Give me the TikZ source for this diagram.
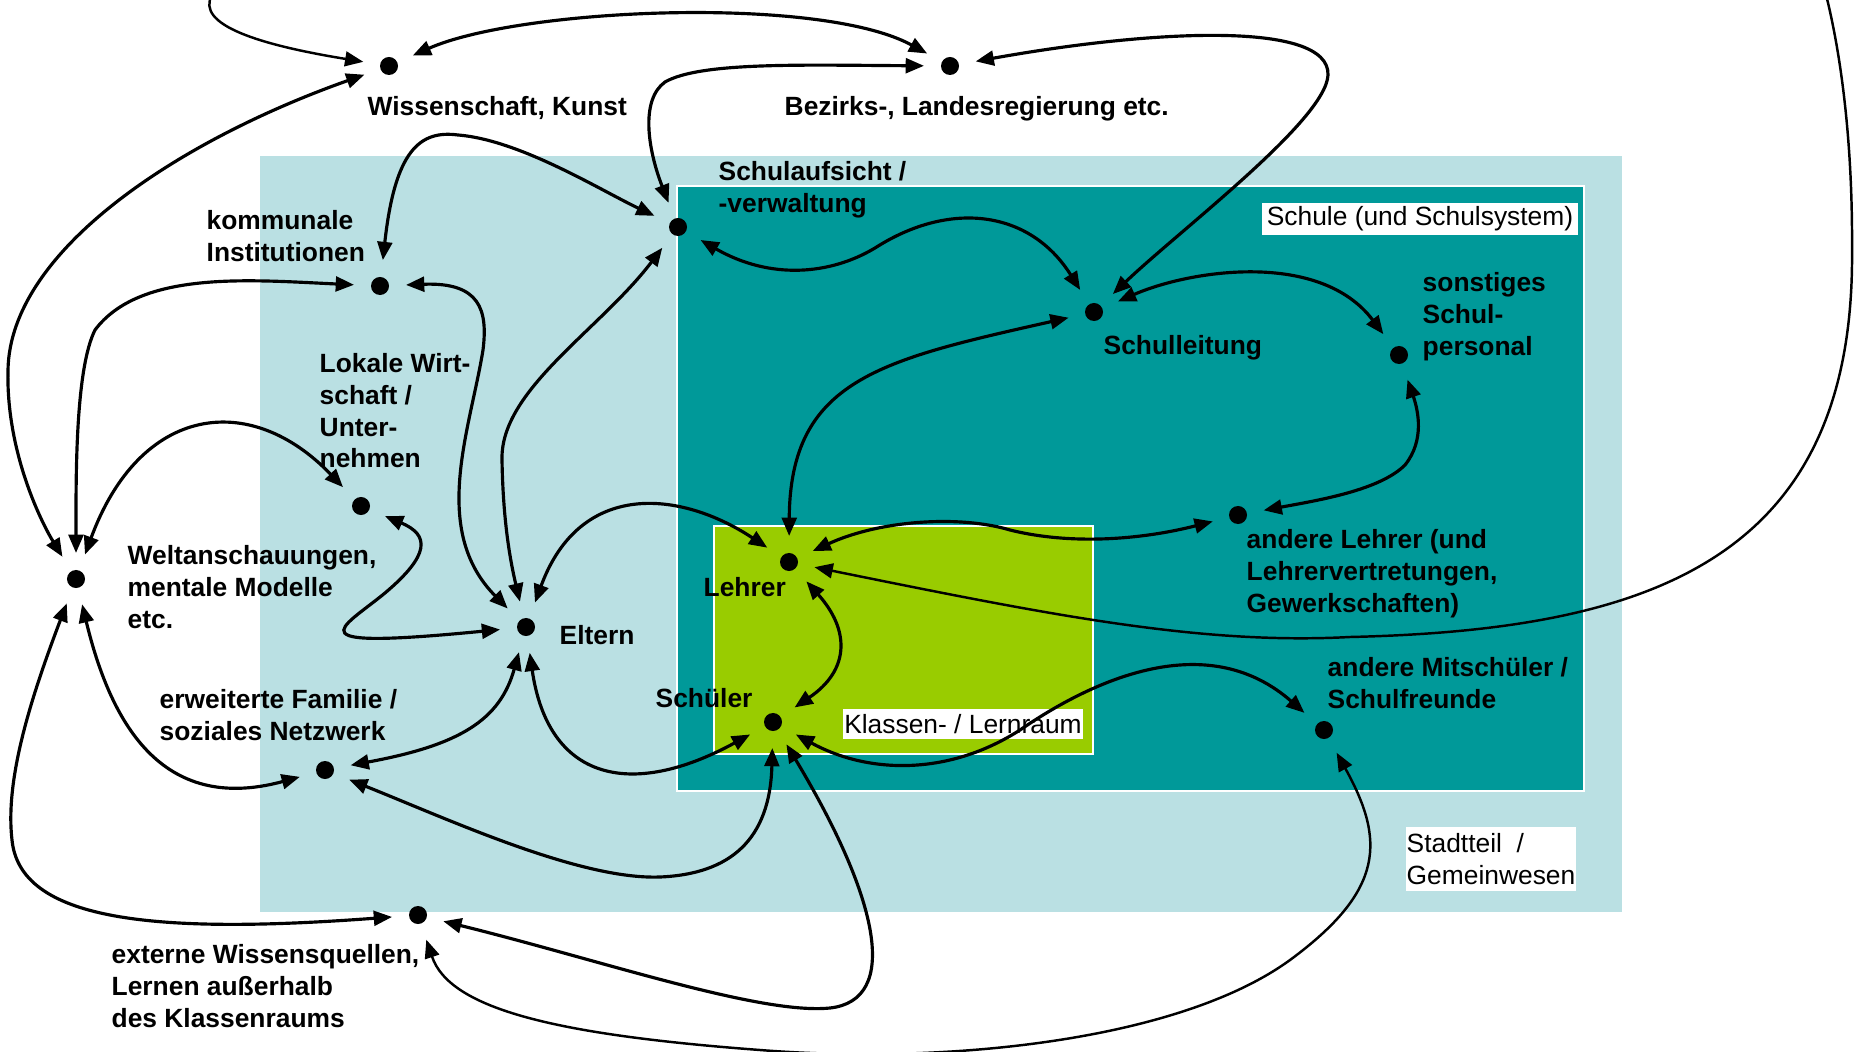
\documentclass[tikz,border=0pt]{standalone}
\usepackage{fontspec}
\setmainfont{Liberation Sans}
\usetikzlibrary{arrows.meta}
\definecolor{stadtblau}{RGB}{186,224,227}
\definecolor{schulteal}{RGB}{0,153,153}
\definecolor{raumgruen}{RGB}{153,204,0}

\begin{document}
\begin{tikzpicture}[x=0.01cm,y=-0.01cm,>={Triangle[length=5.2pt,width=4.2pt]}]

\tikzstyle{actor}=[circle,fill=black,minimum size=0.18cm,inner sep=0pt,outer sep=0.17cm]
\tikzstyle{actorlabel}=[anchor=north west,inner sep=0pt,align=left,font=\bfseries\fontsize{7.5}{9}\selectfont]
\tikzstyle{areatag}=[fill=white,inner sep=0pt,align=left,font=\fontsize{7.5}{9}\selectfont]
\tikzstyle{link}=[<->,line width=0.9pt]
\tikzstyle{farlink}=[<->,line width=0.7pt]

\useasboundingbox (0,0) rectangle (1864,1052);

%areas.
\fill[stadtblau] (260,156) rectangle (1622,912);
\filldraw[fill=schulteal,draw=white,line width=0.5pt] (677,186) rectangle (1584,791);
\filldraw[fill=raumgruen,draw=white,line width=0.5pt] (714,526) rectangle (1093,754);

\node[areatag,minimum width=3.16cm,minimum height=0.32cm] (schultag) at (1420,219) {Schule (und Schulsystem)};
\node[areatag,minimum width=2.39cm,minimum height=0.30cm] (raumtag) at (963,724) {Klassen- / Lernraum};
\node[areatag,minimum width=1.70cm,minimum height=0.64cm] (stadttag) at (1491,859) {Stadtteil~~/\\Gemeinwesen};

%get actors.
\node[actor] (wiss) at (389,66) {};
\node[actor] (bez) at (950,66) {};
\node[actor] (aufsicht) at (678,227) {};
\node[actor] (komm) at (380,286) {};
\node[actor] (lokal) at (361,506) {};
\node[actor] (welt) at (76,579) {};
\node[actor] (eltern) at (526,627) {};
\node[actor] (lehrer) at (789,562) {};
\node[actor] (schueler) at (773,722) {};
\node[actor] (leitung) at (1094,312) {};
\node[actor] (sonst) at (1399,355) {};
\node[actor] (kollegen) at (1238,515) {};
\node[actor] (mitsch) at (1324,730) {};
\node[actor] (famil) at (325,770) {};
\node[actor] (extern) at (418,915) {};

%get labels.
\node[actorlabel] (wisslbl) at (367,96) {Wissenschaft, Kunst};
\node[actorlabel] (bezlbl) at (784,96) {Bezirks-, Landesregierung etc.};
\node[actorlabel] (aufsichtlbl) at (718,161) {Schulaufsicht /\\-verwaltung};
\node[actorlabel] (kommlbl) at (206,210) {kommunale\\Institutionen};
\node[actorlabel] (lokallbl) at (319,353) {Lokale Wirt-\\schaft /\\Unter-\\nehmen};
\node[actorlabel] (weltlbl) at (127,545) {Weltanschauungen,\\mentale Modelle\\etc.};
\node[actorlabel] (elternlbl) at (559,625) {Eltern};
\node[actorlabel] (lehrerlbl) at (703,577) {Lehrer};
\node[actorlabel] (schuelerlbl) at (655,688) {Schüler};
\node[actorlabel] (leitunglbl) at (1103,335) {Schulleitung};
\node[actorlabel] (sonstlbl) at (1422,272) {sonstiges\\Schul-\\personal};
\node[actorlabel] (kollegenlbl) at (1246,529) {andere Lehrer (und\\Lehrervertretungen,\\Gewerkschaften)};
\node[actorlabel] (mitschlbl) at (1327,657) {andere Mitschüler /\\Schulfreunde};
\node[actorlabel] (famillbl) at (159,689) {erweiterte Familie /\\soziales Netzwerk};
\node[actorlabel] (externlbl) at (111,944) {externe Wissensquellen,\\Lernen außerhalb\\des Klassenraums};

%links.
\draw[farlink] (lehrer) .. controls (1050,615) and (1200,645) .. (1350,637) .. controls (1650,630) and (1855,560) .. (1852,250) .. controls (1853,100) and (1830,-20) .. (1800,-80) .. controls (1700,-250) and (250,-120) .. (212,-5) .. controls (195,25) and (260,45) .. (wiss);
\draw[link] (wiss) .. controls (520,8) and (820,-5) .. (bez);
\draw[link] (aufsicht) .. controls (648,150) and (640,100) .. (665,82) .. controls (700,62) and (800,65) .. (bez);
\draw[link] (bez) .. controls (1150,30) and (1330,20) .. (1328,75) .. controls (1326,120) and (1180,230) .. (leitung);
\draw[link] (wiss) .. controls (180,140) and (10,250) .. (8,370) .. controls (6,450) and (40,520) .. (welt);
\draw[link] (komm) .. controls (395,150) and (420,130) .. (458,135) .. controls (520,140) and (600,190) .. (aufsicht);
\draw[link] (komm) .. controls (250,280) and (140,270) .. (95,330) .. controls (75,370) and (76,480) .. (welt);
\draw[link] (komm) .. controls (480,282) and (488,310) .. (483,350) .. controls (470,430) and (430,530) .. (eltern);
\draw[link] (aufsicht) .. controls (600,330) and (500,390) .. (502,460) .. controls (503,520) and (510,560) .. (eltern);
\draw[link] (eltern) .. controls (580,480) and (680,490) .. (lehrer);
\draw[link] (welt) .. controls (140,405) and (250,390) .. (lokal);
\draw[link] (lokal) .. controls (430,535) and (430,555) .. (385,593) .. controls (340,630) and (290,650) .. (eltern);
\draw[link] (welt) .. controls (110,720) and (160,815) .. (famil);
\draw[link] (welt) .. controls (30,700) and (5,780) .. (12,840) .. controls (20,920) and (150,935) .. (extern);
\draw[link] (eltern) .. controls (500,720) and (460,745) .. (famil);
\draw[link] (eltern) .. controls (548,780) and (630,800) .. (schueler);
\draw[link] (famil) .. controls (450,820) and (580,880) .. (660,877) .. controls (730,874) and (770,840) .. (schueler);
\draw[link] (extern) .. controls (600,960) and (760,1015) .. (830,1008) .. controls (900,1000) and (880,900) .. (schueler);
\draw[farlink] (extern) .. controls (450,1010) and (560,1035) .. (760,1050) .. controls (950,1065) and (1180,1040) .. (1290,960) .. controls (1385,890) and (1385,840) .. (mitsch);
\draw[link] (lehrer) .. controls (850,630) and (850,670) .. (schueler);
\draw[link] (lehrer) .. controls (790,380) and (880,360) .. (leitung);
\draw[link] (lehrer) .. controls (880,520) and (960,515) .. (1010,530) .. controls (1070,545) and (1140,540) .. (kollegen);
\draw[link] (schueler) .. controls (870,775) and (950,775) .. (1020,730) .. controls (1100,675) and (1210,630) .. (mitsch);
\draw[link] (aufsicht) .. controls (770,280) and (830,275) .. (875,248) .. controls (950,200) and (1030,210) .. (leitung);
\draw[link] (leitung) .. controls (1190,270) and (1320,250) .. (sonst);
\draw[link] (sonst) .. controls (1418,410) and (1425,440) .. (1405,465) .. controls (1380,490) and (1320,500) .. (kollegen);

\end{tikzpicture}
\end{document}
